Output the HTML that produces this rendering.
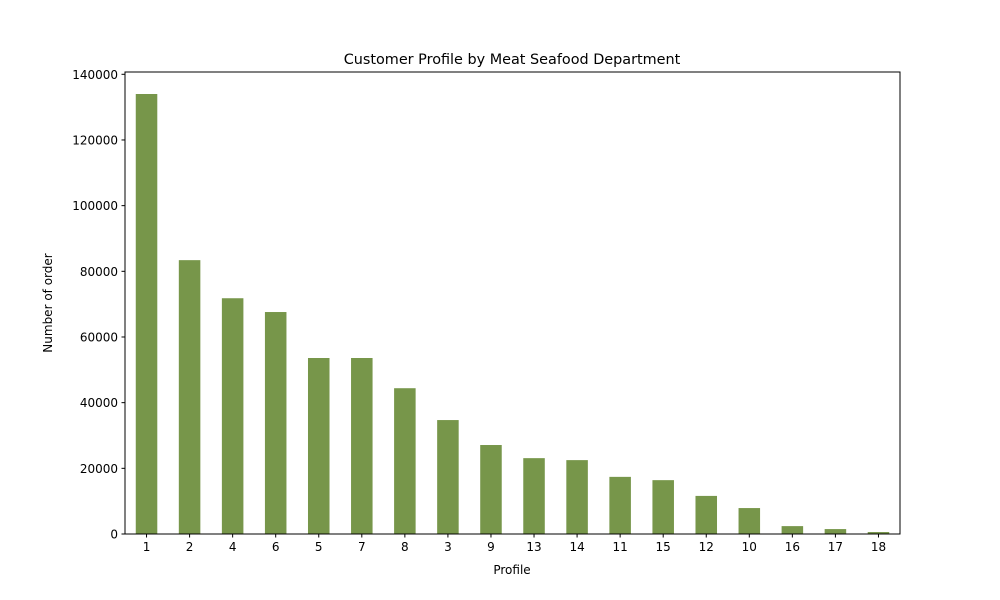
<!DOCTYPE html>
<html><head><meta charset="utf-8"><style>
body{margin:0;background:#fff;}
svg{display:block;font-family:"DejaVu Sans","Liberation Sans",sans-serif;}
</style></head><body>
<svg id="chart" width="1000" height="600">
<rect width="1000" height="600" fill="#fff"/>
<text x="512" y="64" font-size="14.4" text-anchor="middle">Customer Profile by Meat Seafood Department</text>
<g id="bars"></g>
<g id="xt"></g>
<g id="yt"></g>
<rect x="125" y="72" width="775" height="462" fill="none" stroke="#000" stroke-width="1"/>
<text x="512" y="574" font-size="12" text-anchor="middle">Profile</text>
<text transform="translate(52,303) rotate(-90)" font-size="12" text-anchor="middle">Number of order</text>
</svg>
<script>
const categories=["1","2","4","6","5","7","8","3","9","13","14","11","15","12","10","16","17","18"];
const values=[134000,83400,71800,67600,53600,53600,44400,34700,27100,23100,22500,17400,16400,11600,7900,2400,1500,600];
const yTicks=[0,20000,40000,60000,80000,100000,120000,140000];
const NS="http://www.w3.org/2000/svg";
const L=125,R=900,T=72,B=534;
const ymax=Math.max(...values)*1.05;
const y=v=>B-(v/ymax)*(B-T);
const step=(R-L)/categories.length;
const x=i=>L+step*(i+0.5);
const bars=document.getElementById('bars'),xt=document.getElementById('xt'),yt=document.getElementById('yt');
function mk(t,a){const e=document.createElementNS(NS,t);for(const k in a)e.setAttribute(k,a[k]);return e;}
values.forEach((v,i)=>{
 const r=mk('rect',{x:x(i)-step*0.25,y:y(v),width:step*0.5,height:B-y(v),fill:'#77964a'});
 
 
 bars.appendChild(r);
 const tk=mk('line',{x1:x(i),x2:x(i),y1:B,y2:B+3.5,stroke:'#000'});
 
 
 xt.appendChild(tk);
 const tx=mk('text',{x:x(i),y:B+17,'font-size':12,'text-anchor':'middle'});
 tx.textContent=categories[i];
 
 
 xt.appendChild(tx);
});
yTicks.forEach(v=>{
 const tk=mk('line',{x1:L-3.5,x2:L,y1:y(v),y2:y(v),stroke:'#000'});
 
 
 yt.appendChild(tk);
 const tx=mk('text',{x:L-7,y:y(v)+4.5,'font-size':12,'text-anchor':'end'});
 tx.textContent=v;
 
 
 yt.appendChild(tx);
});
</script>
</body></html>
